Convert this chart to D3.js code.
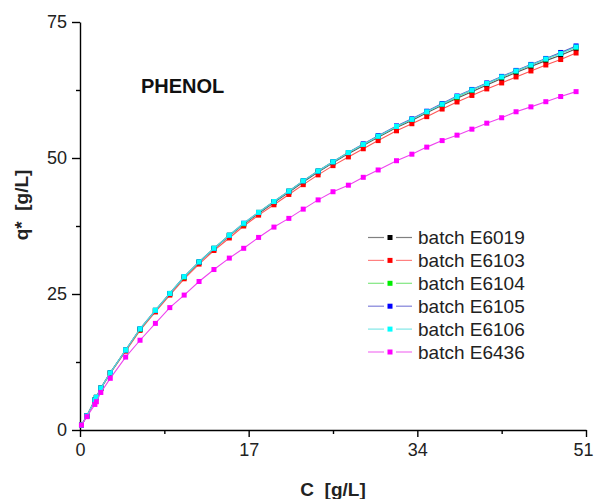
<!DOCTYPE html>
<html>
<head>
<meta charset="utf-8">
<script src="https://cdn.jsdelivr.net/npm/d3@7"></script>
<style>
  html, body { margin: 0; padding: 0; background: #fff; }
  svg { display: block; font-family: "Liberation Sans", Arial, Helvetica, sans-serif; }
  .axis path, .axis line { stroke: #000; stroke-width: 1.4; }
  .axis text { font-size: 18px; fill: #222; }
</style>
</head>
<body>
<div id="chart"></div>
<script>
// concentration C [g/L], shared by all batches
const conc = [0.15, 0.7, 1.5, 1.65, 2.1, 3.05, 4.6, 6.05, 7.6, 9.05, 10.5, 12.0, 13.5, 15.05, 16.5, 18.0, 19.55, 21.05, 22.5, 24.0, 25.5, 27.05, 28.55, 30.05, 31.9, 33.45, 34.95, 36.5, 38.0, 39.5, 41.0, 42.5, 43.95, 45.45, 46.95, 48.45, 50.0];

// q* [g/L] per batch
const qE6019 = [0.9, 2.6, 5.5, 6.0, 7.7, 10.5, 14.6, 18.5, 21.9, 25.0, 28.1, 30.8, 33.3, 35.7, 37.8, 39.8, 41.8, 43.7, 45.6, 47.4, 49.1, 50.8, 52.3, 53.8, 55.6, 56.9, 58.3, 59.7, 61.0, 62.2, 63.4, 64.6, 65.7, 66.8, 67.9, 68.9, 70.1];
const qE6103 = [0.9, 2.6, 5.4, 5.9, 7.6, 10.4, 14.5, 18.3, 21.7, 24.8, 27.8, 30.5, 33.0, 35.3, 37.5, 39.5, 41.4, 43.3, 45.1, 46.9, 48.6, 50.2, 51.7, 53.2, 55.0, 56.3, 57.6, 59.0, 60.3, 61.5, 62.7, 63.8, 64.9, 66.0, 67.1, 68.1, 69.3];
const qE6104 = [0.9, 2.6, 5.5, 6.0, 7.7, 10.5, 14.7, 18.5, 22.0, 25.1, 28.1, 30.9, 33.4, 35.8, 37.9, 40.0, 42.0, 43.9, 45.8, 47.6, 49.3, 51.0, 52.5, 54.0, 55.8, 57.1, 58.5, 59.9, 61.2, 62.5, 63.7, 64.9, 66.0, 67.1, 68.2, 69.3, 70.4];
const qE6105 = [0.9, 2.6, 5.5, 6.0, 7.7, 10.5, 14.7, 18.6, 22.0, 25.1, 28.2, 30.9, 33.4, 35.8, 38.0, 40.0, 42.0, 43.9, 45.8, 47.6, 49.3, 51.0, 52.6, 54.1, 55.9, 57.2, 58.6, 60.0, 61.4, 62.6, 63.8, 65.0, 66.1, 67.2, 68.3, 69.4, 70.6];
const qE6106 = [0.9, 2.6, 5.5, 6.0, 7.7, 10.5, 14.7, 18.6, 22.0, 25.1, 28.2, 30.9, 33.4, 35.8, 38.0, 40.0, 42.0, 43.9, 45.8, 47.6, 49.3, 51.0, 52.5, 54.0, 55.8, 57.1, 58.5, 59.9, 61.3, 62.5, 63.7, 64.9, 66.0, 67.1, 68.2, 69.2, 70.4];
const qE6436 = [0.9, 2.45, 4.7, 5.2, 6.9, 9.5, 13.4, 16.5, 19.6, 22.5, 24.8, 27.3, 29.5, 31.6, 33.4, 35.4, 37.3, 38.9, 40.6, 42.3, 43.8, 45.0, 46.45, 47.8, 49.5, 50.7, 52.0, 53.2, 54.2, 55.3, 56.4, 57.4, 58.5, 59.4, 60.35, 61.3, 62.2];

const seriesNames = ['batch E6019', 'batch E6103', 'batch E6104', 'batch E6105', 'batch E6106', 'batch E6436'];
const seriesValues = [qE6019, qE6103, qE6104, qE6105, qE6106, qE6436];
const markerColors = ['#000000', '#ff0000', '#00ee00', '#0000ff', '#00ffff', '#ff00ff'];
const lineColors = ['#555555', '#ff5555', '#55dd55', '#5555cc', '#55dddd', '#ee44ee'];

const xTicks = [0, 17, 34, 51];
const xMinor = [8.5, 25.5, 42.5];
const yTicks = [0, 25, 50, 75];
const yMinor = [12.5, 37.5, 62.5];

// dimensions
const WIDTH = 595;
const HEIGHT = 499;
const X0 = 80;
const X1 = 586;
const Y0 = 430;
const Y1 = 22;
const MARKER = 5;

const scaleX = d3.scaleLinear().domain([0, 51]).range([X0, X1]);
const scaleY = d3.scaleLinear().domain([0, 75]).range([Y0, Y1]);

const $svg = d3.select('#chart').append('svg')
  .attr('width', WIDTH)
  .attr('height', HEIGHT);

// axes
const $xAxis = $svg.append('g').attr('class', 'axis')
  .attr('transform', `translate(0, ${Y0})`)
  .call(d3.axisBottom(scaleX).tickValues(xTicks).tickSize(7).tickPadding(6).tickSizeOuter(0));
// keep the last label inside the frame
$xAxis.selectAll('.tick text').filter(d => d === 51).attr('dx', -3);

$svg.append('g').attr('class', 'axis')
  .attr('transform', `translate(0, ${Y0})`)
  .call(d3.axisBottom(scaleX).tickValues(xMinor).tickSize(4).tickFormat('').tickSizeOuter(0))
  .select('.domain').remove();

$svg.append('g').attr('class', 'axis')
  .attr('transform', `translate(${X0}, 0)`)
  .call(d3.axisLeft(scaleY).tickValues(yTicks).tickSize(8).tickPadding(5).tickSizeOuter(0));
$svg.append('g').attr('class', 'axis')
  .attr('transform', `translate(${X0}, 0)`)
  .call(d3.axisLeft(scaleY).tickValues(yMinor).tickSize(4).tickFormat('').tickSizeOuter(0))
  .select('.domain').remove();

// axis titles
$svg.append('text')
  .attr('x', (X0 + X1) / 2)
  .attr('y', 496)
  .attr('text-anchor', 'middle')
  .style('font-size', '19px')
  .style('font-weight', 'bold')
  .style('white-space', 'pre')
  .attr('fill', '#222')
  .text('C  [g/L]');

$svg.append('text')
  .attr('transform', 'translate(28, 205) rotate(-90)')
  .attr('text-anchor', 'middle')
  .style('font-size', '19px')
  .style('font-weight', 'bold')
  .style('white-space', 'pre')
  .attr('fill', '#222')
  .text('q*  [g/L]');

$svg.append('text')
  .attr('x', 141)
  .attr('y', 93)
  .style('font-size', '20px')
  .style('font-weight', 'bold')
  .attr('fill', '#111')
  .text('PHENOL');

// series
const line = d3.line()
  .x((d, i) => scaleX(conc[i]))
  .y(d => scaleY(d));

const $vis = $svg.append('g').attr('class', 'g-vis');
const $series = $vis.selectAll('.g-series')
  .data(seriesValues)
  .join('g')
  .attr('class', 'g-series');

$series.append('path')
  .attr('d', d => line(d))
  .attr('fill', 'none')
  .attr('stroke', (d, i) => lineColors[i])
  .attr('stroke-width', 1.1);

$series.selectAll('rect')
  .data((d, i) => d.map((v, j) => ({ c: conc[j], q: v, color: markerColors[i] })))
  .join('rect')
  .attr('x', d => scaleX(d.c) - MARKER / 2)
  .attr('y', d => scaleY(d.q) - MARKER / 2)
  .attr('width', MARKER)
  .attr('height', MARKER)
  .attr('fill', d => d.color);

// legend
const LEG_X = 368;
const LEG_Y = 237;
const LEG_STEP = 22.9;
const $legend = $svg.append('g').attr('class', 'g-legend');
const $items = $legend.selectAll('.legend-item')
  .data(seriesNames)
  .join('g')
  .attr('class', 'legend-item')
  .attr('transform', (d, i) => `translate(${LEG_X}, ${LEG_Y + i * LEG_STEP})`);

// line segments either side of the marker, with a small gap
$items.append('line')
  .attr('x1', 0).attr('x2', 16)
  .attr('y1', 0.5).attr('y2', 0.5)
  .attr('stroke', (d, i) => lineColors[i])
  .attr('stroke-opacity', 0.75)
  .attr('stroke-width', 1.2);
$items.append('line')
  .attr('x1', 28).attr('x2', 44)
  .attr('y1', 0.5).attr('y2', 0.5)
  .attr('stroke', (d, i) => lineColors[i])
  .attr('stroke-opacity', 0.75)
  .attr('stroke-width', 1.2);
$items.append('rect')
  .attr('x', 22 - MARKER / 2)
  .attr('y', 0.5 - MARKER / 2)
  .attr('width', MARKER)
  .attr('height', MARKER)
  .attr('fill', (d, i) => markerColors[i]);
$items.append('text')
  .attr('x', 50)
  .attr('y', 7)
  .style('font-size', '19px')
  .attr('fill', '#222')
  .text(d => d);
</script>
</body>
</html>
